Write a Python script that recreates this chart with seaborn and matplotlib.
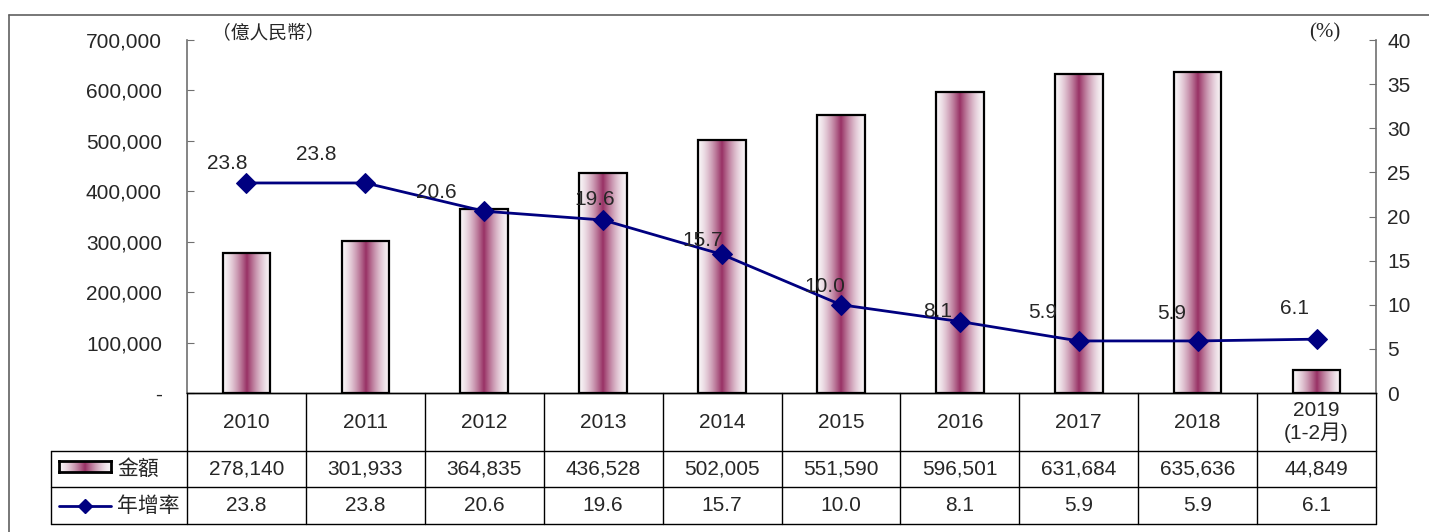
import numpy as np
import pandas as pd
import seaborn as sns
import matplotlib.pyplot as plt
from matplotlib.colors import LinearSegmentedColormap
from matplotlib.lines import Line2D
from matplotlib.transforms import blended_transform_factory

# data
years = ["2010", "2011", "2012", "2013", "2014", "2015", "2016", "2017", "2018", "2019\n(1-2月)"]
amounts = [278140, 301933, 364835, 436528, 502005, 551590, 596501, 631684, 635636, 44849]
rates = [23.8, 23.8, 20.6, 19.6, 15.7, 10.0, 8.1, 5.9, 5.9, 6.1]

# label offsets (pixels) for the growth-rate annotations
label_offsets = [(-19, 19), (-49, 28), (-48, 19), (-8, 21), (-19, 14),
                 (-16, 18), (-22, 10), (-36, 28), (-26, 27), (-22, 31)]

sns.set_style("white")
plt.rcParams['font.family'] = ['Liberation Sans', 'Noto Sans CJK TC', 'DejaVu Sans']

W, H = 1429, 532
fig = plt.figure(figsize=(W / 100, H / 100), dpi=100)

def fx(px):
    return px / W

def fy(py):
    return 1 - py / H

ax = fig.add_axes([fx(187), fy(393), fx(1376) - fx(187), fy(40) - fy(393)])

df = pd.DataFrame({'year': years, 'amount': amounts, 'rate': rates})
sns.barplot(data=df, x='year', y='amount', ax=ax, width=0.4, color='white')

grad_cmap = LinearSegmentedColormap.from_list('plum', ['#f8f4f6', '#993366'])
t = np.linspace(0, 1, 200)
grad = ((1 - np.abs(2 * t - 1)) ** 1.5).reshape(1, -1)
for p in ax.patches:
    x0, w, h = p.get_x(), p.get_width(), p.get_height()
    ax.imshow(grad, extent=[x0, x0 + w, 0, h], cmap=grad_cmap, aspect='auto', zorder=1)
    p.set_facecolor('none')
    p.set_edgecolor('black')
    p.set_linewidth(1.6)
    p.set_zorder(2)

ax.set_xlim(-0.5, len(years) - 0.5)
ax.set_ylim(0, 700000)
ax.set_yticks(np.arange(0, 700001, 100000))
ax.set_yticklabels(['-' if v == 0 else f"{v:,}" for v in np.arange(0, 700001, 100000)])
ax.set_xticks([])
ax.set_xlabel('')
ax.set_ylabel('')
ax.tick_params(axis='y', direction='in', length=5, pad=18, labelsize=15, color='#707070')

ax2 = ax.twinx()
sns.lineplot(x=np.arange(len(rates)), y=rates, ax=ax2, color='#000080', marker='D',
             markersize=10, markeredgecolor='#000080', linewidth=2)
ax2.set_xlim(-0.5, len(years) - 0.5)
ax2.set_ylim(0, 40)
ax2.set_yticks(np.arange(0, 41, 5))
ax2.tick_params(axis='y', direction='in', length=5, pad=8, labelsize=15, color='#707070')
ax2.set_ylabel('')

for i, r in enumerate(rates):
    ax2.annotate(f"{r:.1f}", (i, r), xytext=label_offsets[i], textcoords='offset pixels',
                 ha='center', va='center', fontsize=15)

for a in (ax, ax2):
    a.spines['top'].set_visible(False)
    a.spines['left'].set_color('#707070')
    a.spines['right'].set_color('#707070')
    a.spines['left'].set_linewidth(1.2)
    a.spines['right'].set_linewidth(1.2)
    a.spines['bottom'].set_color('black')
    a.spines['bottom'].set_linewidth(1.0)
ax.spines['right'].set_visible(False)
ax2.spines['left'].set_visible(False)

# units
fig.text(fx(268), fy(33), '（億人民幣）', ha='center', va='center', fontsize=13.5,
         family=['Noto Sans CJK TC'])
fig.text(fx(1325), fy(33), '(%)', ha='center', va='center', fontsize=15,
         family=['Liberation Serif'])

# outer frame
fig.add_artist(Line2D([fx(9), 1], [fy(15), fy(15)], color='#606060', lw=1.2, transform=fig.transFigure))
fig.add_artist(Line2D([fx(9), fx(9)], [fy(15), 0], color='#606060', lw=1.2, transform=fig.transFigure))

# data table under the chart
tr = blended_transform_factory(ax.transData, fig.transFigure)
n = len(years)
for i in range(n + 1):
    fig.add_artist(Line2D([i - 0.5, i - 0.5], [fy(393), fy(524)], color='black', lw=1, transform=tr))
for py in (451, 487, 524):
    fig.add_artist(Line2D([fx(51), fx(1376)], [fy(py), fy(py)], color='black', lw=1,
                          transform=fig.transFigure))
fig.add_artist(Line2D([fx(51), fx(51)], [fy(451), fy(524)], color='black', lw=1,
                      transform=fig.transFigure))

for i in range(n):
    fig.text(i, fy(422), years[i], ha='center', va='center', fontsize=15, transform=tr,
             linespacing=1.2)
    fig.text(i, fy(469), f"{amounts[i]:,}", ha='center', va='center', fontsize=15, transform=tr)
    fig.text(i, fy(505.5), f"{rates[i]:.1f}", ha='center', va='center', fontsize=15, transform=tr)

# legend keys in the table header
icon = fig.add_axes([fx(59), fy(472), fx(111) - fx(59), fy(461) - fy(472)])
icon.imshow(grad, cmap=grad_cmap, aspect='auto')
icon.set_xticks([])
icon.set_yticks([])
for s in icon.spines.values():
    s.set_color('black')
    s.set_linewidth(2)
fig.text(fx(117), fy(469), '金額', ha='left', va='center', fontsize=15)
fig.add_artist(Line2D([fx(59), fx(111)], [fy(506), fy(506)], color='#000080', lw=2,
                      transform=fig.transFigure))
fig.add_artist(Line2D([fx(85)], [fy(506)], color='#000080', marker='D', markersize=7,
                      transform=fig.transFigure))
fig.text(fx(117), fy(506), '年增率', ha='left', va='center', fontsize=15)

fig.savefig('out.png', dpi=100)
